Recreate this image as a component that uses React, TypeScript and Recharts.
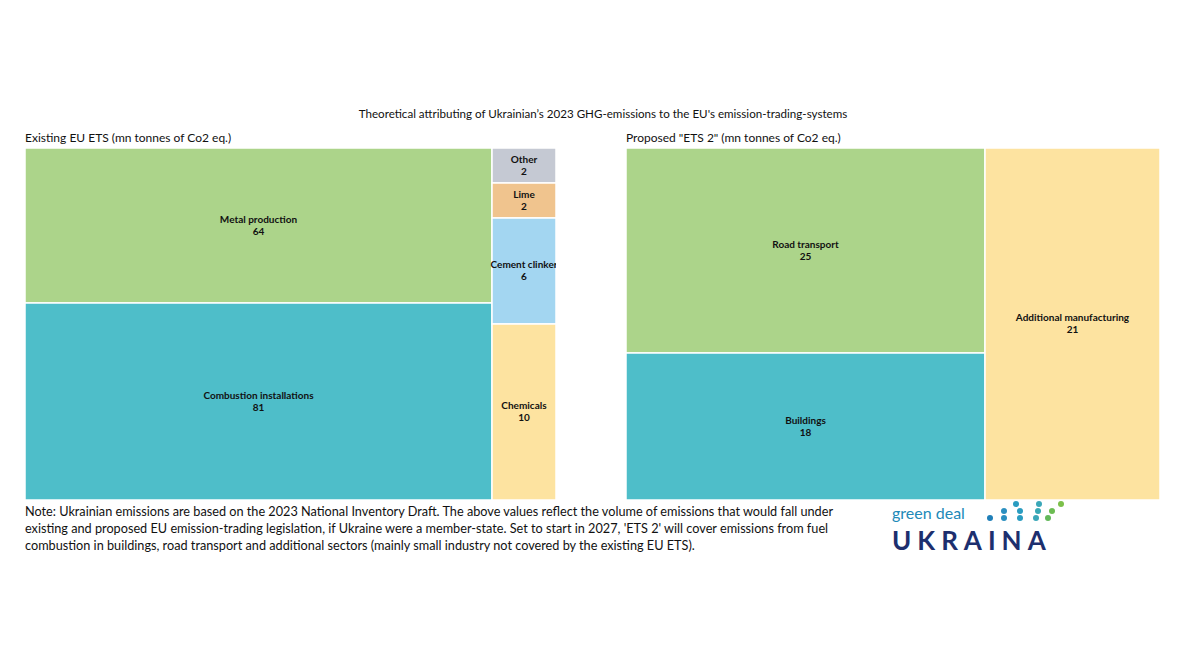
import React from "react";
import { Treemap } from "recharts";

// Existing EU ETS, mn tonnes CO2 eq.
const etsNames = ["Metal production", "Combustion installations", "Other", "Lime", "Cement clinker", "Chemicals"];
const etsValues = [64, 81, 2, 2, 6, 10];

// Proposed ETS 2, mn tonnes CO2 eq.
const ets2Names = ["Road transport", "Buildings", "Additional manufacturing"];
const ets2Values = [25, 18, 21];

const colors: Record<string, string> = {
  "Metal production": "#acd48a",
  "Combustion installations": "#4ebec9",
  Other: "#c5c9d3",
  Lime: "#f0c48e",
  "Cement clinker": "#a3d6f1",
  Chemicals: "#fde3a0",
  "Road transport": "#acd48a",
  Buildings: "#4ebec9",
  "Additional manufacturing": "#fde3a0",
};

const FONT = "Lato, 'Noto Sans', sans-serif";

const leaf = (names: string[], values: number[], i: number) => ({ name: names[i], size: values[i] });

// nesting keeps the big sectors stacked in one column and the small ones in a strip
const etsTree = [
  { name: "large", children: [leaf(etsNames, etsValues, 0), leaf(etsNames, etsValues, 1)] },
  {
    name: "small",
    children: [
      leaf(etsNames, etsValues, 2),
      {
        name: "small-rest",
        children: [
          leaf(etsNames, etsValues, 3),
          { name: "small-rest-2", children: [leaf(etsNames, etsValues, 4), leaf(etsNames, etsValues, 5)] },
        ],
      },
    ],
  },
];

const ets2Tree = [
  { name: "fuels", children: [leaf(ets2Names, ets2Values, 0), leaf(ets2Names, ets2Values, 1)] },
  leaf(ets2Names, ets2Values, 2),
];

const Block = (props: any) => {
  const { x, y, width, height, name, value, children } = props;
  if (children && children.length) return null;
  const cx = x + width / 2;
  const cy = y + height / 2;
  return (
    <g>
      <rect x={x} y={y} width={width} height={height} fill={colors[name] || "#ccc"} stroke="#fff" strokeWidth={1.5} />
      <text x={cx} y={cy - 3} textAnchor="middle" fontFamily={FONT} fontSize={10} fontWeight={700} fill="#111">
        {name}
      </text>
      <text x={cx} y={cy + 9} textAnchor="middle" fontFamily={FONT} fontSize={10} fontWeight={700} fill="#111">
        {value}
      </text>
    </g>
  );
};

const noteLines = [
  "Note: Ukrainian emissions are based on the 2023 National Inventory Draft. The above values reflect the volume of emissions that would fall under",
  "existing and proposed EU emission-trading legislation, if Ukraine were a member-state. Set to start in 2027, 'ETS 2' will cover emissions from fuel",
  "combustion in buildings, road transport and additional sectors (mainly small industry not covered by the existing EU ETS).",
];

// logo dot cluster
const logoDots: [number, number, string][] = [
  [1016, 504, "#2a9cc0"], [1039, 504, "#3aa7b8"], [1061, 504, "#7cc04a"],
  [1004, 511, "#2a8fc0"], [1020, 511, "#2a9cc0"], [1038, 511, "#38a8b5"], [1052, 511, "#6cbc52"],
  [990, 518, "#1f7fb8"], [1004, 518, "#2a8fc0"], [1020, 518, "#2a9cc0"], [1036, 518, "#3aa7b8"], [1048, 518, "#62b85a"],
];

export default function App() {
  return (
    <div style={{ position: "absolute", left: 0, top: 0, width: 1180, height: 664, background: "#fff", fontFamily: FONT, color: "#111" }}>
      <div style={{ position: "absolute", left: 0, width: 1206, top: 107, textAlign: "center", fontSize: 11.6 }}>
        Theoretical attributing of Ukrainian’s 2023 GHG-emissions to the EU's emission-trading-systems
      </div>

      <div style={{ position: "absolute", left: 25, top: 130, fontSize: 12 }}>Existing EU ETS (mn tonnes of Co2 eq.)</div>
      <div style={{ position: "absolute", left: 25, top: 148 }}>
        <Treemap
          width={531}
          height={352}
          data={etsTree}
          dataKey="size"
          aspectRatio={0.5 * (1 + Math.sqrt(5))}
          isAnimationActive={false}
          content={<Block />}
        />
      </div>

      <div style={{ position: "absolute", left: 626, top: 130, fontSize: 12 }}>Proposed "ETS 2" (mn tonnes of Co2 eq.)</div>
      <div style={{ position: "absolute", left: 626, top: 148 }}>
        <Treemap
          width={534}
          height={352}
          data={ets2Tree}
          dataKey="size"
          aspectRatio={0.5 * (1 + Math.sqrt(5))}
          isAnimationActive={false}
          content={<Block />}
        />
      </div>

      <div style={{ position: "absolute", left: 25, top: 503, fontSize: 12.7, lineHeight: "17px", whiteSpace: "nowrap" }}>
        {noteLines.map((l) => (
          <div key={l}>{l}</div>
        ))}
      </div>

      <svg style={{ position: "absolute", left: 0, top: 0 }} width={1180} height={664} pointerEvents="none">
        <text x={892} y={519} fontFamily={FONT} fontSize={16} fill="#2189b8">
          green deal
        </text>
        {logoDots.map(([cx, cy, c], i) => (
          <circle key={i} cx={cx} cy={cy} r={3} fill={c} />
        ))}
        <text x={892} y={550} fontFamily={FONT} fontSize={26} fontWeight={700} fill="#1d2f6e" letterSpacing={6}>
          UKRAINA
        </text>
      </svg>
    </div>
  );
}
